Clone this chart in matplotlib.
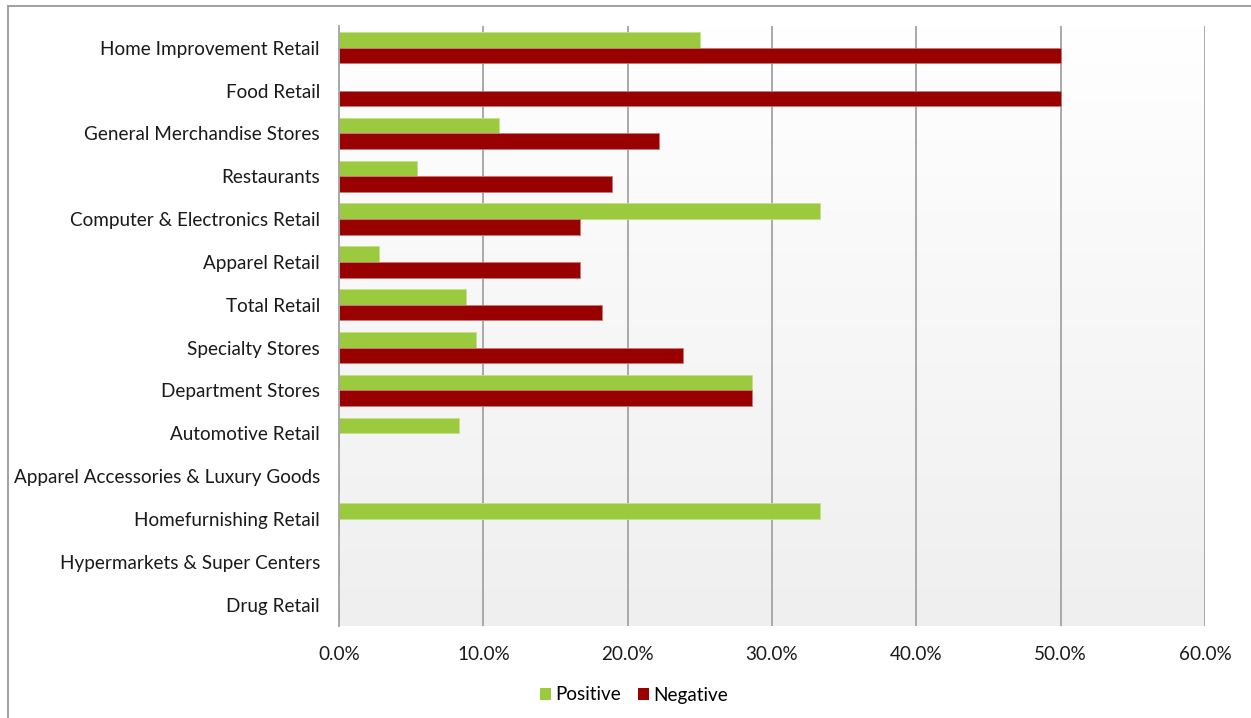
import numpy as np
import matplotlib
matplotlib.use("Agg")
import matplotlib.pyplot as plt
from matplotlib.lines import Line2D
from matplotlib.patches import Patch
from matplotlib.ticker import FuncFormatter

plt.rcParams['font.family'] = ['Lato', 'DejaVu Sans']

categories = [
    "Home Improvement Retail",
    "Food Retail",
    "General Merchandise Stores",
    "Restaurants",
    "Computer & Electronics Retail",
    "Apparel Retail",
    "Total Retail",
    "Specialty Stores",
    "Department Stores",
    "Automotive Retail",
    "Apparel Accessories & Luxury Goods",
    "Homefurnishing Retail",
    "Hypermarkets & Super Centers",
    "Drug Retail",
]
positive = [25.0, 0.0, 11.1, 5.4, 33.3, 2.8, 8.8, 9.5, 28.6, 8.3, 0.0, 33.3, 0.0, 0.0]
negative = [50.0, 50.0, 22.2, 18.9, 16.7, 16.7, 18.2, 23.8, 28.6, 0.0, 0.0, 0.0, 0.0, 0.0]
x_ticks = [0, 10, 20, 30, 40, 50, 60]

GREEN = "#9BCA3E"
RED = "#990000"
GRID = "#a3a3a3"

W, H = 1251, 718
fig = plt.figure(figsize=(W / 100, H / 100), dpi=100)
fig.patch.set_facecolor("white")

left, right, top, bottom = 339, 1205, 26.4, 626
ax = fig.add_axes([left / W, 1 - bottom / H, (right - left) / W, (bottom - top) / H])

ypos = np.arange(len(categories))
h = 0.366

# vertical gradient background of the plot area
grad = np.linspace(1.0, 0.0, 256).reshape(-1, 1)
top_c = np.array([1.0, 1.0, 1.0])
bot_c = np.array([0xef, 0xef, 0xef]) / 255
img = (grad * top_c + (1 - grad) * bot_c).reshape(256, 1, 3)
ax.imshow(img, extent=[0, 60, len(categories) - 0.5, -0.5], aspect="auto", zorder=0)

for x in x_ticks[1:]:
    ax.axvline(x, color=GRID, lw=1.3, zorder=1)

ax.barh(ypos - h / 2, positive, height=h, color=GREEN, edgecolor="#c4e08c",
        linewidth=0.6, zorder=2, label="Positive")
ax.barh(ypos + h / 2, negative, height=h, color=RED, edgecolor="#c77a7a",
        linewidth=0.6, zorder=2, label="Negative")

ax.set_xlim(0, 60)
ax.set_ylim(len(categories) - 0.5, -0.5)
ax.set_xticks(x_ticks)
ax.xaxis.set_major_formatter(FuncFormatter(lambda v, p: f"{v:.1f}%"))
ax.set_yticks(ypos)
ax.set_yticklabels(categories)
ax.tick_params(axis="both", length=0, labelsize=13.6, colors="#1a1a1a")
ax.tick_params(axis="y", pad=13.7)
ax.tick_params(axis="x", pad=14.4)

for s in ["top", "right", "bottom"]:
    ax.spines[s].set_visible(False)
ax.spines["left"].set_color(GRID)
ax.spines["left"].set_linewidth(1.3)
ax.spines["left"].set_zorder(3)

handles = [Patch(facecolor=GREEN, label="Positive"), Patch(facecolor=RED, label="Negative")]
fig.legend(handles=handles, loc="center", bbox_to_anchor=(634 / W, 1 - 695 / H), ncol=2,
           frameon=False, fontsize=13.6, handlelength=0.58, handleheight=0.58,
           handletextpad=0.22, columnspacing=0.95)

# outer chart frame
fig.add_artist(Line2D([8 / W, 1.0], [1 - 5.5 / H] * 2, color="#9a9a9a", lw=1.3,
                      transform=fig.transFigure))
fig.add_artist(Line2D([8 / W] * 2, [0.0, 1 - 5.5 / H], color="#9a9a9a", lw=1.3,
                      transform=fig.transFigure))

fig.savefig("out.png", dpi=100)
